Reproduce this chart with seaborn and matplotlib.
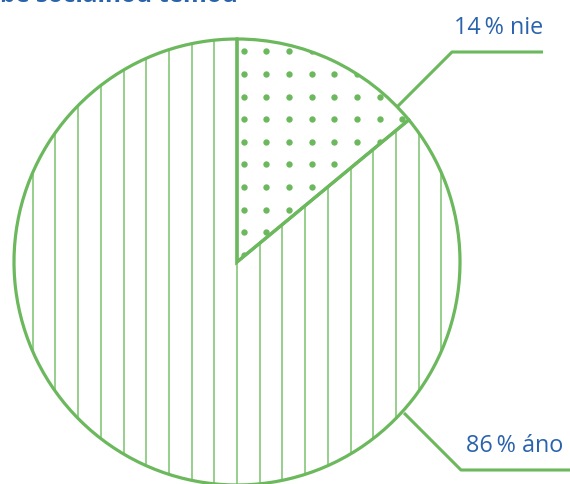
import matplotlib
matplotlib.use("Agg")
import matplotlib.pyplot as plt
import seaborn as sns
import numpy as np

# data
answers = ["nie", "áno"]
shares = [14, 86]
label_texts = ["14\u2009% nie", "86\u2009% áno"]
title_text = "be sociálnou témou"

GREEN = "#6bb85d"
GREEN_LIGHT = "#8fca84"
BLUE = "#2a63ad"

sns.set_theme(style="white")
plt.rcParams["font.family"] = ["Open Sans", "DejaVu Sans"]

W, H = 570, 485
fig = plt.figure(figsize=(W / 100, H / 100), dpi=100)
ax = fig.add_axes([0, 0, 1, 1])

cx, cy, r = 237, H - 263, 223
wedges, _ = ax.pie(shares, startangle=90, counterclock=False,
                   center=(cx, cy), radius=r,
                   colors=["none", "none"],
                   wedgeprops=dict(edgecolor=GREEN, linewidth=2.3, zorder=3))
ax.set_xlim(0, W)
ax.set_ylim(0, H)
ax.set_aspect("equal")
ax.axis("off")

# vertical line hatch for "áno"
step = 22.7
xs = cx + step * np.arange(-10, 11)
vl = ax.vlines(xs, cy - r - 5, cy + r + 5, color=GREEN_LIGHT, linewidth=1.3, zorder=1)
vl.set_clip_path(wedges[1])

# dot hatch for "nie"
gx, gy = np.meshgrid(cx + 6.5 + step * np.arange(0, 9),
                     (H - 52.3) - 22.6 * np.arange(0, 10))
sc = ax.scatter(gx.ravel(), gy.ravel(), s=21, color=GREEN, linewidths=0, zorder=1)
sc.set_clip_path(wedges[0])

# leader lines
ax.plot([397, 452, 543], [H - 108, H - 53, H - 53], color=GREEN, lw=2.2,
        solid_capstyle="butt", zorder=4)
ax.plot([404, 461, 570], [H - 414, H - 471, H - 471], color=GREEN, lw=2.2,
        solid_capstyle="butt", zorder=4)

ax.text(543, H - 34, label_texts[0], color=BLUE, fontsize=16.8,
        ha="right", va="baseline")
ax.text(466, H - 452, label_texts[1], color=BLUE, fontsize=16.8,
        ha="left", va="baseline")

# title, cut at the top edge like in the source
ax.text(0, H - 1.5, title_text, color=BLUE, fontsize=17.5, fontweight="bold",
        ha="left", va="baseline", clip_on=False)

fig.savefig("out.png", dpi=100)
